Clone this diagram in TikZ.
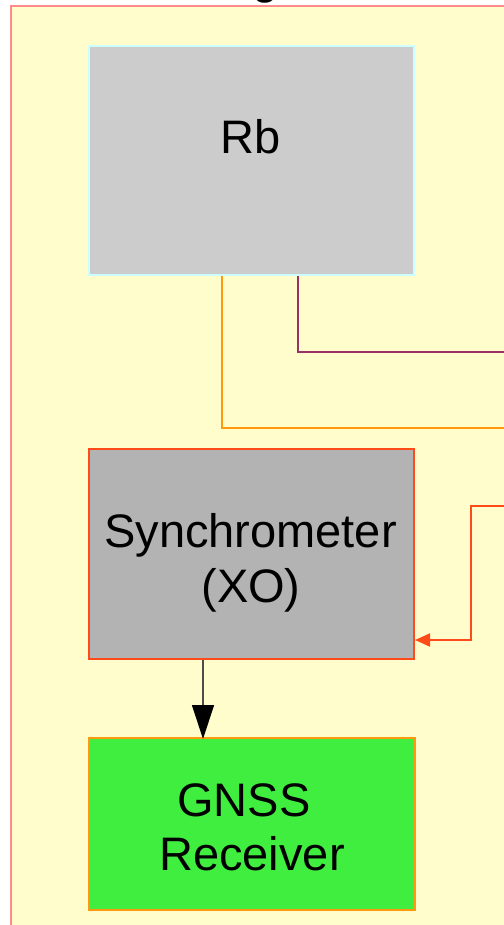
\documentclass[tikz,border=0pt]{standalone}
\usepackage{fontspec}
\setmainfont{Liberation Sans}
\usetikzlibrary{arrows.meta}
\definecolor{clfill}{HTML}{FFFDCC}
\definecolor{clborder}{HTML}{FF8A8A}
\definecolor{rbfill}{HTML}{CCCCCC}
\definecolor{rbborder}{HTML}{CCFFFF}
\definecolor{syfill}{HTML}{B3B3B3}
\definecolor{redline}{HTML}{FF4A1A}
\definecolor{gnfill}{HTML}{40EE40}
\definecolor{orangeline}{HTML}{FF9A10}
\definecolor{purpleline}{HTML}{993366}
\begin{document}
\begin{tikzpicture}[x=1pt,y=-1pt,
  box/.style={draw, line width=2pt, rectangle, inner sep=0pt, anchor=north west},
  lbl/.style={anchor=base, inner sep=0pt, font=\fontsize{47}{54}\selectfont},
  wire/.style={line width=2pt}]
\useasboundingbox (0,0) rectangle (503,925);
% cluster
\fill[clfill] (10.5,6.5) rectangle (560,960);
\draw[clborder, line width=2pt] (10.5,960) -- (10.5,6.5) -- (560,6.5);
\node[lbl] (cltitle) at (266,-6) {g};
% nodes
\node[box, draw=rbborder, fill=rbfill, minimum width=325pt, minimum height=229pt] (rb) at (88,45) {};
\node[box, draw=redline, fill=syfill, minimum width=325pt, minimum height=210pt] (sync) at (88,448) {};
\node[box, draw=orangeline, fill=gnfill, minimum width=326pt, minimum height=172pt] (gnss) at (88,737) {};
\node[lbl] (rbt) at (251,154) {Rb};
\node[lbl] (syt1) at (250.5,547) {Synchrometer};
\node[lbl] (syt2) at (251,602) {(XO)};
\node[lbl] (gnt1) at (244,816) {GNSS};
\node[lbl] (gnt2) at (252,870) {Receiver};
% free ends
\coordinate (pEnd) at (504,352);
\coordinate (oEnd) at (504,428);
\coordinate (rStart) at (504,506);
% connectors
\draw[wire, purpleline] (rb.south west) ++(210,0) |- (pEnd);
\draw[wire, orangeline] (rb.south west) ++(134,0) |- (oEnd);
\draw[wire, redline, -{Triangle[length=15pt,width=13pt]}] (rStart) -- (471,506) -- (471,640) -- (sync.south east |- 0,640);
\draw[line width=1.2pt, black!70, -{Triangle[length=34pt,width=22pt,fill=black,color=black]}] (sync.south west) ++(115,0) -- ++(0,79);
\end{tikzpicture}
\end{document}
